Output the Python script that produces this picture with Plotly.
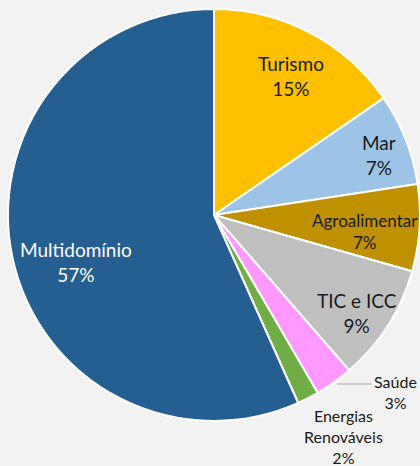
import plotly.graph_objects as go

W, H = 420, 466

categories = ["Turismo", "Mar", "Agroalimentar", "TIC e ICC", "Saúde",
              "Energias<br>Renováveis", "Multidomínio"]
values = [15.4, 7.2, 6.8, 9.2, 3.0, 1.7, 56.7]
colors = ["#FFC000", "#9DC3E6", "#BF9000", "#BFBFBF", "#FF99FF", "#70AD47", "#255E91"]
pct_labels = [f"{round(v)}%" for v in values]

# label placement (pixel centres of text blocks), font sizes, font colours
label_px = [(291, 76), (379, 155), (365, 231), (357, 313), (395, 392), (343, 436), (76, 262)]
label_size = [19, 19, 17, 19, 16, 16, 19]
label_color = ["#1a1a1a"] * 6 + ["#ffffff"]


def px2paper(x, y):
    return x / W, 1 - y / H


fig = go.Figure()
fig.add_trace(go.Pie(
    labels=categories,
    values=values,
    sort=False,
    direction="clockwise",
    rotation=0,
    marker=dict(colors=colors, line=dict(color="white", width=2)),
    textinfo="none",
    hoverinfo="label+percent",
    showlegend=False,
    domain=dict(x=[8 / W, 1], y=[1 - 422 / H, 1 - 8 / H]),
))

for cat, pct, (x, y), sz, col in zip(categories, pct_labels, label_px, label_size, label_color):
    px, py = px2paper(x, y)
    fig.add_annotation(
        x=px, y=py, xref="paper", yref="paper",
        text=f"{cat}<br>{pct}", showarrow=False,
        xanchor="center", yanchor="middle", align="center",
        font=dict(family="Lato, Carlito, Calibri, sans-serif", size=sz, color=col),
    )

# leader line for Saúde
x0, y0 = px2paper(337, 384)
x1, y1 = px2paper(372, 384)
fig.add_shape(type="line", xref="paper", yref="paper", x0=x0, y0=y0, x1=x1, y1=y1,
              line=dict(color="#a6a6a6", width=1))

fig.update_layout(
    width=W, height=H,
    margin=dict(l=0, r=0, t=0, b=0),
    paper_bgcolor="#F2F2F2",
    plot_bgcolor="#F2F2F2",
)

fig.write_html(
    "out.html",
    config={"displayModeBar": False},
    post_script="document.body.style.margin='0';document.body.style.overflow='hidden';",
)
